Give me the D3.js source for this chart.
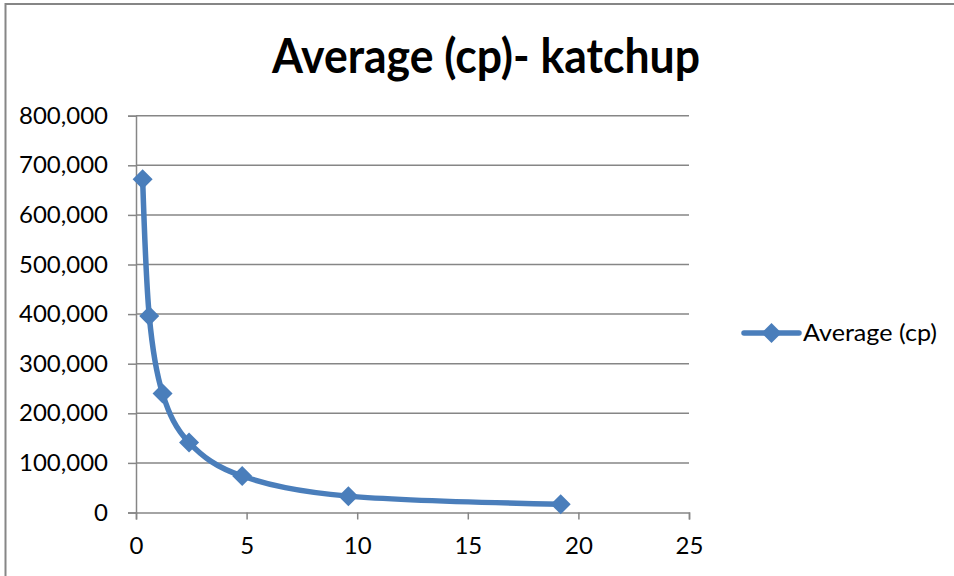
<!DOCTYPE html>
<html><head><meta charset="utf-8">
<script src="https://cdn.jsdelivr.net/npm/d3@7"></script>
<style>body{margin:0;background:#fff}svg{display:block}</style>
</head><body><div id="chart"></div>
<script>
const title='Average (cp)- katchup';
const seriesName='Average (cp)';
const xValues=[0.3,0.6,1.2,2.4,4.8,9.6,19.2];
const yValues=[672000,396000,240000,141000,73600,33000,16500];
const xTicks=[0,5,10,15,20,25];
const yTicks=[0,100000,200000,300000,400000,500000,600000,700000,800000];

const W=954,H=576,blue='#4a7ebb',grid='#868686';
const font='Lato, "Open Sans", sans-serif';
const svg=d3.select('#chart').append('svg').attr('width',W).attr('height',H);
svg.append('rect').attr('x',5.5).attr('y',4).attr('width',1000).attr('height',700)
  .attr('fill','none').attr('stroke',grid).attr('stroke-width',2);

const x=d3.scaleLinear().domain([0,25]).range([136,689]);
const y=d3.scaleLinear().domain([0,800000]).range([512.5,115.7]);

svg.append('text').attr('x',486).attr('y',73).attr('text-anchor','middle')
  .attr('font-family',font).attr('font-weight',700).attr('font-size',47)
  .attr('textLength',428).attr('lengthAdjust','spacingAndGlyphs').text(title);

// horizontal gridlines
svg.append('g').selectAll('line').data(yTicks.slice(1)).join('line')
  .attr('x1',x(0)).attr('x2',x(25)).attr('y1',d=>y(d)).attr('y2',d=>y(d))
  .attr('stroke',grid).attr('stroke-width',1.5);

const yAxis=svg.append('g').attr('transform',`translate(${x(0)},0)`)
  .call(d3.axisLeft(y).tickValues(yTicks).tickSize(8).tickPadding(20).tickFormat(d3.format(',')));
const xAxis=svg.append('g').attr('transform',`translate(0,${y(0)})`)
  .call(d3.axisBottom(x).tickValues(xTicks).tickSize(7).tickPadding(17));
[xAxis,yAxis].forEach(a=>{
  a.select('.domain').attr('stroke',grid).attr('stroke-width',1.5);
  a.selectAll('.tick line').attr('stroke',grid).attr('stroke-width',1.5);
  a.selectAll('text').attr('font-family',font).attr('font-size',24).attr('fill','#000');
});

const pts=xValues.map((v,i)=>[v,yValues[i]]);
const line=d3.line().x(d=>x(d[0])).y(d=>y(d[1])).curve(d3.curveCardinal.tension(0));
svg.append('path').datum(pts).attr('d',line).attr('fill','none')
  .attr('stroke',blue).attr('stroke-width',5.5).attr('stroke-linejoin','round').attr('stroke-linecap','round');
const marker=d3.symbol().type(d3.symbolSquare).size(200);
svg.append('g').selectAll('path').data(pts).join('path')
  .attr('transform',d=>`translate(${x(d[0])},${y(d[1])}) rotate(45)`)
  .attr('d',marker).attr('fill',blue);

// legend
const lg=svg.append('g').attr('transform','translate(744,333)');
lg.append('line').attr('x1',0).attr('x2',55).attr('stroke',blue).attr('stroke-width',5.5).attr('stroke-linecap','round');
lg.append('path').attr('transform','translate(27.5,0) rotate(45)').attr('d',marker).attr('fill',blue);
lg.append('text').attr('x',59).attr('y',0).attr('dy','0.35em').attr('font-family',font).attr('font-size',24)
  .attr('textLength',134).attr('lengthAdjust','spacingAndGlyphs').text(seriesName);
</script></body></html>
